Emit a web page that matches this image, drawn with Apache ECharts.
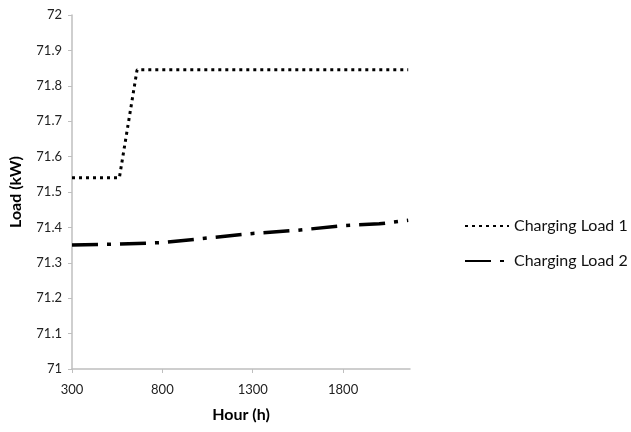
<!DOCTYPE html>
<html><head><meta charset="utf-8">
<script src="https://cdn.jsdelivr.net/npm/echarts@6/dist/echarts.min.js"></script>
<style>html,body{margin:0;padding:0;background:#fff}#c{width:631px;height:432px}</style>
</head><body><div id="c"></div>
<script>
const hours1 = [300, 562, 660, 2160];
const load1 = [71.54, 71.54, 71.845, 71.845];
const hours2 = [300, 550, 800, 1050, 1300, 1550, 1800, 2000, 2160];
const load2 = [71.35, 71.353, 71.357, 71.37, 71.383, 71.392, 71.405, 71.41, 71.42];
const xTicks = [300, 800, 1300, 1800];
const yTicks = [71, 71.1, 71.2, 71.3, 71.4, 71.5, 71.6, 71.7, 71.8, 71.9, 72];
const seriesNames = ['Charging Load 1', 'Charging Load 2'];

const chart = echarts.init(document.getElementById('c'));
const font = 'Lato, "Open Sans", sans-serif';
chart.setOption({
  animation: false,
  textStyle: { fontFamily: font },
  grid: { left: 70, top: 15, width: 340, height: 354 },
  xAxis: {
    type: 'value', min: 300, max: 2170,
    name: 'Hour (h)', nameLocation: 'middle', nameGap: 38,
    nameTextStyle: { fontFamily: font, fontWeight: 'bold', fontSize: 16, color: '#000' },
    axisLine: { lineStyle: { color: '#bfbfbf', width: 1.5 } },
    axisTick: { customValues: xTicks, length: 4, lineStyle: { color: '#bfbfbf' } },
    axisLabel: { customValues: xTicks, color: '#222', fontSize: 13, margin: 14,
      formatter: v => String(v) },
    splitLine: { show: false }
  },
  yAxis: {
    type: 'value', min: 71, max: 72, interval: 0.1,
    name: 'Load (kW)', nameLocation: 'middle', nameGap: 48,
    nameTextStyle: { fontFamily: font, fontWeight: 'bold', fontSize: 16, color: '#000' },
    axisLine: { show: true, lineStyle: { color: '#bfbfbf', width: 1.5 } },
    axisTick: { show: true, length: 4, lineStyle: { color: '#bfbfbf' } },
    axisLabel: { color: '#222', fontSize: 13, margin: 10,
      formatter: v => String(Math.round(v * 10) / 10) },
    splitLine: { show: false }
  },
  legend: {
    orient: 'vertical', left: 459, top: 213, itemGap: 19,
    itemWidth: 44, itemHeight: 12,
    itemStyle: { opacity: 0 },
    textStyle: { fontFamily: font, fontSize: 16, color: '#111' },
    data: seriesNames
  },
  series: [
    { name: seriesNames[0], type: 'line', showSymbol: false, symbol: 'none',
      data: hours1.map((h, i) => [h, load1[i]]),
      lineStyle: { color: '#000', width: 3, type: [3, 4] }, itemStyle: { color: '#000' } },
    { name: seriesNames[1], type: 'line', showSymbol: false, symbol: 'none',
      data: hours2.map((h, i) => [h, load2[i]]),
      lineStyle: { color: '#000', width: 3.5, type: [26, 9, 4, 9] }, itemStyle: { color: '#000' } }
  ]
});
</script></body></html>
